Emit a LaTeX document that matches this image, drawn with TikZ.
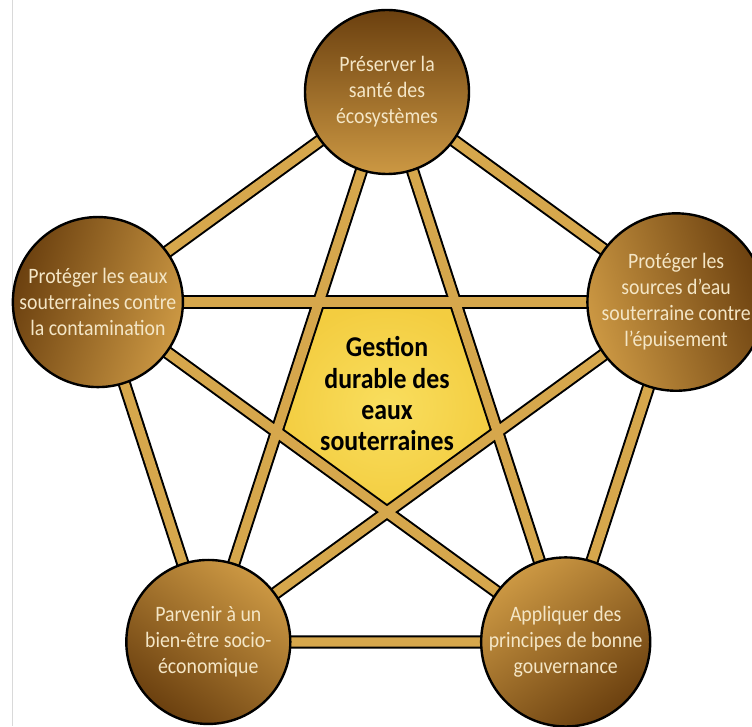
\documentclass[tikz,border=0pt]{standalone}
\usepackage{fontspec}
\setmainfont{Carlito}
\newfontfamily\goalfont[FakeStretch=0.9]{Carlito}
\usetikzlibrary{calc}
\definecolor{brownDark}{HTML}{6B400F}
\definecolor{brownLight}{HTML}{CC9843}
\definecolor{barGold}{HTML}{D6A74C}
\definecolor{starIn}{HTML}{F9DE5E}
\definecolor{starOut}{HTML}{F3CD40}
\definecolor{cream}{HTML}{F4E6C6}
\pgfdeclarelayer{core}
\pgfdeclarelayer{bars}
\pgfsetlayers{core,bars,main}
\tikzset{
  goal/.style={circle, draw=black, line width=1.8pt, minimum size=123pt, inner sep=0pt,
    align=center, text=cream, font=\goalfont\fontsize{16.5}{19.5}\selectfont,
    top color=brownDark, bottom color=brownLight},
  hub/.style={align=center, text=black, font=\goalfont\bfseries\fontsize{21.5}{23.5}\selectfont},
  barline/.style={line width=10pt, draw=black, line cap=round},
  barfill/.style={line width=7pt, draw=barGold, line cap=round},
  corefill/.style={inner color=starIn, outer color=starOut}
}
\begin{document}
\begin{tikzpicture}[x=0.75pt, y=0.75pt]
  \useasboundingbox (0,0) rectangle (752,726);
  \draw[black!15] (12,0) -- (12,726);
  \coordinate (mid) at (387,330);

  \node[goal, shading angle=0] (eco) at ($(mid)+(90:304)$) {Préserver la\\santé des\\écosystèmes};
  \node[goal, shading angle=72] (cont) at ($(mid)+(162:304)$) {Protéger les eaux\\souterraines contre\\la contamination};
  \node[goal, shading angle=144] (bien) at ($(mid)+(234:304)$) {Parvenir à un\\bien-être socio-\\économique};
  \node[goal, shading angle=216] (gouv) at ($(mid)+(306:304)$) {Appliquer des\\principes de bonne\\gouvernance};
  \node[goal, shading angle=288] (epui) at ($(mid)+(18:304)$) {Protéger les\\sources d’eau\\souterraine contre\\l’épuisement};
  \node[hub] (gestion) at ($(mid)+(0,2)$) {Gestion\\durable des\\eaux\\souterraines};

  % yellow core between the star bars
  \begin{pgfonlayer}{core}
    \fill[corefill]
      (intersection of cont.center--epui.center and eco.center--bien.center) --
      (intersection of cont.center--epui.center and eco.center--gouv.center) --
      (intersection of epui.center--bien.center and eco.center--gouv.center) --
      (intersection of epui.center--bien.center and cont.center--gouv.center) --
      (intersection of cont.center--gouv.center and eco.center--bien.center) -- cycle;
  \end{pgfonlayer}

  \begin{pgfonlayer}{bars}
    \foreach \style in {barline, barfill} {
      \draw[\style] (eco.center) -- (cont.center) -- (bien.center) -- (gouv.center) -- (epui.center) -- cycle;
      \draw[\style] (eco.center) -- (bien.center);
      \draw[\style] (eco.center) -- (gouv.center);
      \draw[\style] (cont.center) -- (epui.center);
      \draw[\style] (cont.center) -- (gouv.center);
      \draw[\style] (bien.center) -- (epui.center);
    }
  \end{pgfonlayer}
\end{tikzpicture}
\end{document}
